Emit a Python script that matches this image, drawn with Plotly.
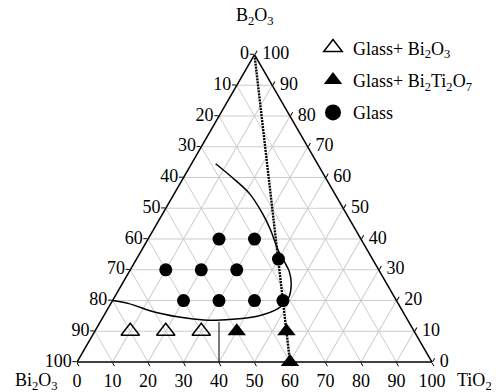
import plotly.graph_objects as go

# ---- data (mol %) : a = B2O3 (top), b = Bi2O3 (bottom-left), c = TiO2 (bottom-right)
glass_B2O3 = [40, 40, 33.5, 30, 30, 30, 20, 20, 20, 20]
glass_Bi2O3 = [40, 30, 26.5, 60, 50, 40, 60, 50, 40, 32]
glass_TiO2 = [20, 30, 40, 10, 20, 30, 20, 30, 40, 48]

bi2o3_B2O3 = [10, 10, 10]
bi2o3_Bi2O3 = [80, 70, 60]
bi2o3_TiO2 = [10, 20, 30]

bt_B2O3 = [10, 10, 0]
bt_Bi2O3 = [50, 36, 40]
bt_TiO2 = [40, 54, 60]

# glass-forming boundary curve
curve_B2O3 = [20, 19.0, 16.1, 14.2, 13.6, 13.9, 14.9, 17.4, 20.6, 25.3, 29.4, 31.6, 36.7, 43.0, 48.4, 54.7, 60.1, 64.5]
curve_Bi2O3 = [80, 75.9, 69.6, 61.7, 56.2, 49.4, 41.8, 34.7, 30.2, 27.0, 25.5, 25.3, 25.1, 24.0, 23.6, 24.0, 26.3, 28.7]
curve_TiO2 = [0, 5.1, 14.3, 24.1, 30.2, 36.7, 43.3, 47.9, 49.2, 47.7, 45.1, 43.1, 38.2, 33.0, 28.0, 21.3, 13.6, 6.8]

# vertical divider
vline_B2O3 = [0, 13]
vline_Bi2O3 = [60, 53.5]
vline_TiO2 = [40, 33.5]

# dotted join line (B2O3 apex to 40Bi2O3-60TiO2)
join_B2O3 = [100, 0]
join_Bi2O3 = [0, 40]
join_TiO2 = [0, 60]

tick_values = list(range(0, 101, 10))

FONT = "Liberation Serif"
FS = 18

fig = go.Figure()

# lines
fig.add_trace(go.Scatterternary(a=join_B2O3, b=join_Bi2O3, c=join_TiO2, mode="lines",
                                line=dict(color="black", width=2.4, dash="2px,1px"),
                                showlegend=False, hoverinfo="skip"))
fig.add_trace(go.Scatterternary(a=vline_B2O3, b=vline_Bi2O3, c=vline_TiO2, mode="lines",
                                line=dict(color="#333333", width=1.3),
                                showlegend=False, hoverinfo="skip"))
fig.add_trace(go.Scatterternary(a=curve_B2O3, b=curve_Bi2O3, c=curve_TiO2, mode="lines",
                                line=dict(color="black", width=1.5, shape="spline", smoothing=1),
                                showlegend=False, hoverinfo="skip"))

# data markers
fig.add_trace(go.Scatterternary(a=bi2o3_B2O3, b=bi2o3_Bi2O3, c=bi2o3_TiO2, mode="markers",
                                marker=dict(symbol="triangle-up-open", size=16, color="black",
                                            line=dict(width=1.5, color="black")),
                                cliponaxis=False, showlegend=False))
fig.add_trace(go.Scatterternary(a=bt_B2O3, b=bt_Bi2O3, c=bt_TiO2, mode="markers",
                                marker=dict(symbol="triangle-up", size=16, color="black"),
                                cliponaxis=False, showlegend=False))
fig.add_trace(go.Scatterternary(a=glass_B2O3, b=glass_Bi2O3, c=glass_TiO2, mode="markers",
                                marker=dict(symbol="circle", size=13, color="black"),
                                cliponaxis=False, showlegend=False))

# legend entries
fig.add_trace(go.Scatterternary(a=[None], b=[None], c=[None], mode="markers",
                                name="Glass+ Bi<sub>2</sub>O<sub>3</sub>", legendgroup="g1",
                                marker=dict(symbol="triangle-up-open", size=16, color="black",
                                            line=dict(width=1.5, color="black"))))
fig.add_trace(go.Scatterternary(a=[None], b=[None], c=[None], mode="markers",
                                name="Glass+ Bi<sub>2</sub>Ti<sub>2</sub>O<sub>7</sub>", legendgroup="g2",
                                marker=dict(symbol="triangle-up", size=16, color="black")))
fig.add_trace(go.Scatterternary(a=[None], b=[None], c=[None], mode="markers",
                                name="Glass", legendgroup="g3",
                                marker=dict(symbol="circle", size=16, color="black")))

# tick labels
txt = [str(v) for v in tick_values]
clear = "rgba(0,0,0,0)"
# left edge: Bi2O3 content, 0 at top -> 100 at bottom-left
fig.add_trace(go.Scatterternary(a=[100 - v for v in tick_values], b=tick_values, c=[0] * 11,
                                mode="markers+text", text=txt, textposition="middle left",
                                marker=dict(size=7, color=clear),
                                textfont=dict(family=FONT, size=FS, color="black"),
                                cliponaxis=False, showlegend=False, hoverinfo="skip"))
# bottom edge: TiO2 content
fig.add_trace(go.Scatterternary(a=[0] * 11, b=[100 - v for v in tick_values], c=tick_values,
                                mode="markers+text", text=txt, textposition="bottom center",
                                marker=dict(size=17, color=clear),
                                textfont=dict(family=FONT, size=FS, color="black"),
                                cliponaxis=False, showlegend=False, hoverinfo="skip"))
# right edge: B2O3 content
fig.add_trace(go.Scatterternary(a=tick_values, b=[0] * 11, c=[100 - v for v in tick_values],
                                mode="markers+text", text=txt, textposition="middle right",
                                marker=dict(size=11, color=clear),
                                textfont=dict(family=FONT, size=FS, color="black"),
                                cliponaxis=False, showlegend=False, hoverinfo="skip"))

axis_common = dict(tickmode="linear", tick0=0, dtick=10, showticklabels=False,
                   ticks="outside", ticklen=4, tickcolor="black", tickwidth=1,
                   showgrid=True, gridcolor="#cccccc", gridwidth=1.1,
                   showline=True, linecolor="black", linewidth=1.5, min=0,
                   title=dict(text=""))

fig.update_layout(
    template="none",
    width=500, height=392,
    margin=dict(l=0, r=0, t=0, b=0),
    paper_bgcolor="white",
    font=dict(family=FONT, size=FS, color="black"),
    ternary=dict(
        sum=100,
        bgcolor="white",
        domain=dict(x=[0.154, 0.864], y=[0.0765, 0.8607]),
        aaxis=axis_common,
        baxis=axis_common,
        caxis=axis_common,
    ),
    legend=dict(x=0.626, y=0.925, xanchor="left", yanchor="top",
                bgcolor="rgba(0,0,0,0)", borderwidth=0, tracegroupgap=6,
                font=dict(family=FONT, size=FS, color="black"), itemsizing="trace"),
    annotations=[
        dict(text="B<sub>2</sub>O<sub>3</sub>", x=255 / 500, y=1 - 16 / 392, xref="paper", yref="paper",
             showarrow=False, xanchor="center", yanchor="middle",
             font=dict(family=FONT, size=FS, color="black")),
        dict(text="Bi<sub>2</sub>O<sub>3</sub>", x=36 / 500, y=1 - 381 / 392, xref="paper", yref="paper",
             showarrow=False, xanchor="center", yanchor="middle",
             font=dict(family=FONT, size=FS, color="black")),
        dict(text="TiO<sub>2</sub>", x=474 / 500, y=1 - 381 / 392, xref="paper", yref="paper",
             showarrow=False, xanchor="center", yanchor="middle",
             font=dict(family=FONT, size=FS, color="black")),
    ],
)

fig.write_html("out.html")
